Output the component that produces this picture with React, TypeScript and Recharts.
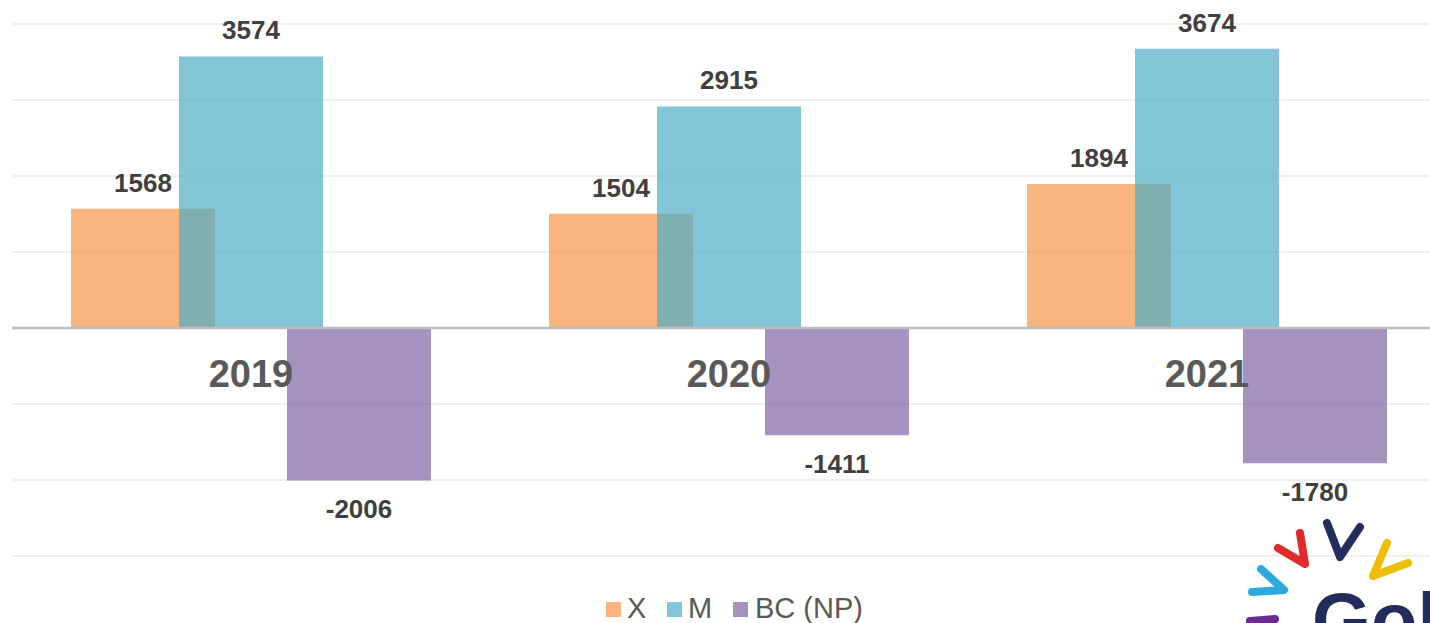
import React from "react";
import {
  BarChart,
  Bar,
  XAxis,
  YAxis,
  CartesianGrid,
  ReferenceLine,
  LabelList,
} from "recharts";

const years = ["2019", "2020", "2021"];
const exportsX = [1568, 1504, 1894];
const importsM = [3574, 2915, 3674];
const balanceBC = [-2006, -1411, -1780];
const yTicks = [-3000, -2000, -1000, 0, 1000, 2000, 3000, 4000];

const series = [
  { key: "x", name: "X", color: "#F79646" },
  { key: "m", name: "M", color: "#4BACC6" },
  { key: "bc", name: "BC (NP)", color: "#8064A2" },
];

const data = years.map((year, i) => ({
  year,
  x: exportsX[i],
  m: importsM[i],
  bc: balanceBC[i],
}));

const FONT = "'Liberation Sans', Arial, sans-serif";
const TOP = 24;
const PLOT_H = 532;
const Y_MIN = yTicks[0];
const Y_MAX = yTicks[yTicks.length - 1];
const ZERO_Y = TOP + (PLOT_H * Y_MAX) / (Y_MAX - Y_MIN);

// value labels: above positive bars, below negative ones
const renderValueLabel = (props: any) => {
  const { x, y, width, height, value } = props;
  const cx = x + width / 2;
  const end = value >= 0 ? Math.min(y, y + height) : Math.max(y, y + height);
  const baseline = value >= 0 ? end - 17 : end + 38;
  return (
    <text
      x={cx}
      y={baseline}
      textAnchor="middle"
      fontFamily={FONT}
      fontWeight="bold"
      fontSize={26}
      fill="#404040"
    >
      {value}
    </text>
  );
};

// year labels sit just under the zero line
const YearTick = (props: any) => {
  const { x, payload } = props;
  return (
    <text
      x={x}
      y={ZERO_Y + 59}
      textAnchor="middle"
      fontFamily={FONT}
      fontWeight="bold"
      fontSize={38}
      fill="#595959"
    >
      {payload.value}
    </text>
  );
};

const legendPos = [
  { sq: 606, tx: 627 },
  { sq: 667, tx: 688 },
  { sq: 733, tx: 755 },
];

function Overlay() {
  return (
    <svg
      width={1430}
      height={623}
      style={{ position: "absolute", left: 0, top: 0, pointerEvents: "none" }}
    >
      {series.map((s, i) => (
        <g key={s.key}>
          <rect
            x={legendPos[i].sq}
            y={602}
            width={15}
            height={15}
            fill={s.color}
            fillOpacity={0.7}
          />
          <text
            x={legendPos[i].tx}
            y={618}
            fontFamily={FONT}
            fontSize={29}
            fill="#595959"
          >
            {s.name}
          </text>
        </g>
      ))}
      {/* watermark logo */}
      <g fill="none" strokeLinecap="round" strokeLinejoin="round" strokeWidth={8}>
        <polyline points="1327,523 1340,557 1360,527" stroke="#232D5B" />
        <polyline points="1300,533 1305,564 1278,548" stroke="#E02A2E" />
        <polyline points="1387,543 1373,576 1408,563" stroke="#F0BE00" />
        <polyline points="1261,569 1284,590 1252,592" stroke="#2EA9DF" />
        <polyline points="1250,621 1275,619" stroke="#6A2D8E" />
      </g>
      <text
        x={1312}
        y={646}
        fontFamily={FONT}
        fontWeight="bold"
        fontSize={76}
        fill="#232D5B"
      >
        Gob
      </text>
    </svg>
  );
}

export default function App() {
  return (
    <div
      style={{
        position: "fixed",
        left: 0,
        top: 0,
        width: 1430,
        height: 623,
        overflow: "hidden",
        background: "#ffffff",
      }}
    >
      <BarChart
        width={1450}
        height={623}
        data={data}
        margin={{ top: TOP, right: 4, bottom: 66, left: 12 }}
        barSize={144}
        barGap={-36}
      >
        <CartesianGrid vertical={false} stroke="#EBEBEB" strokeWidth={1.5} />
        <YAxis hide domain={[Y_MIN, Y_MAX]} ticks={yTicks} />
        <XAxis
          dataKey="year"
          height={1}
          axisLine={false}
          tickLine={false}
          tick={<YearTick />}
          interval={0}
          zIndex={-50}
        />
        {series.map((s) => (
          <Bar
            key={s.key}
            dataKey={s.key}
            name={s.name}
            fill={s.color}
            fillOpacity={0.7}
            isAnimationActive={false}
          >
            <LabelList dataKey={s.key} content={renderValueLabel} />
          </Bar>
        ))}
        <ReferenceLine y={0} stroke="#BDBDBD" strokeWidth={2.5} />
      </BarChart>
      <Overlay />
    </div>
  );
}
